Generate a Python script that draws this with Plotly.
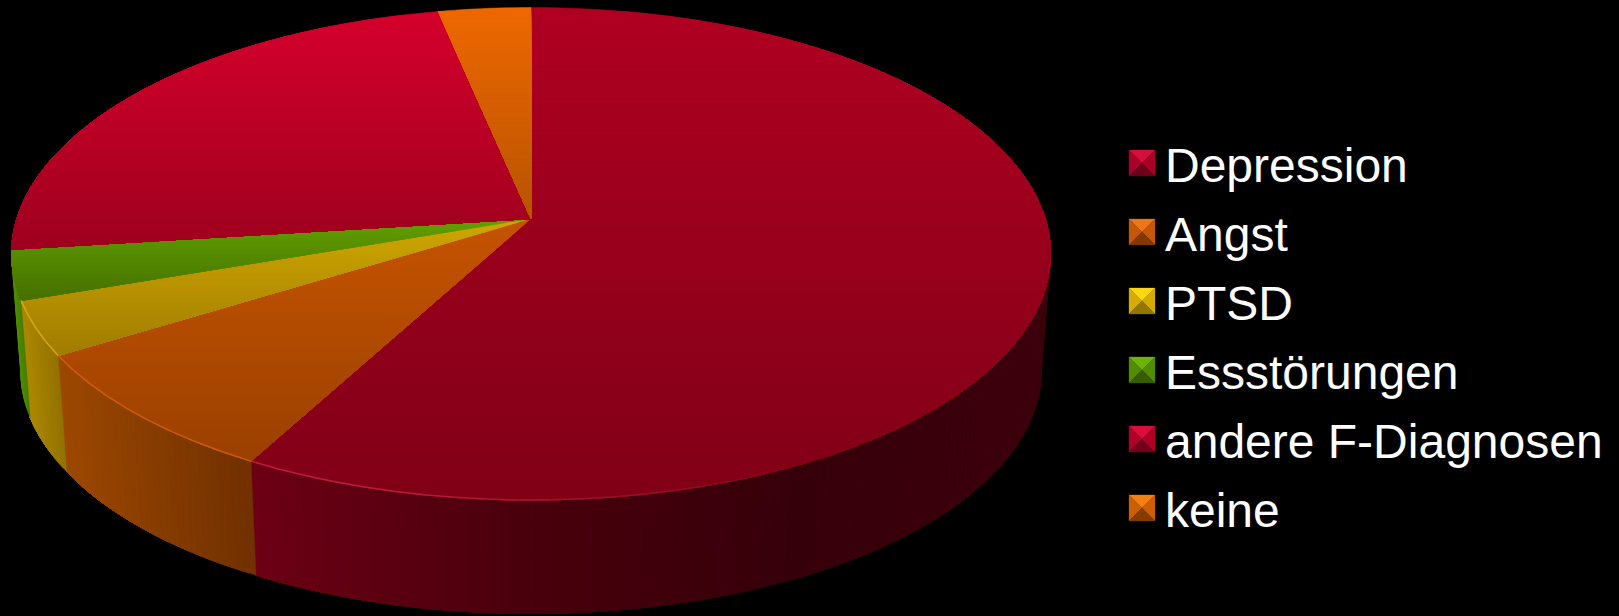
import math
import numpy as np
import plotly.graph_objects as go

# Diagnosis shares in percent, clockwise from twelve o'clock
categories = ["Depression", "Angst", "PTSD", "Essstörungen", "andere F-Diagnosen", "keine"]
shares = [57.9, 8.3, 3.55, 3.25, 23.7, 3.3]

# Vertical shading of each slice's top face: (colour at y0, colour at y1, y0, y1)
top_shades = [
    ((176, 0, 34), (128, 0, 22), 8, 500),
    ((198, 84, 0), (154, 64, 0), 218, 461),
    ((208, 168, 0), (160, 124, 0), 218, 355),
    ((98, 160, 0), (70, 112, 0), 218, 300),
    ((212, 0, 44), (158, 0, 30), 12, 250),
    ((238, 104, 0), (184, 84, 0), 8, 218),
]
# Wall shading by horizontal position: (x, colour) stops; the last two slices
# sit on the far side of the disc and have no visible wall
wall_shades = [
    [(252, (108, 0, 20)), (530, (72, 0, 12)), (800, (54, 0, 10)), (1050, (60, 0, 12))],
    [(58, (156, 72, 0)), (252, (112, 48, 0))],
    [(22, (172, 136, 0)), (66, (140, 108, 0))],
    [(12, (80, 140, 0)), (30, (60, 110, 0))],
    None,
    None,
]
rim_light = [(214, 40, 80), (224, 104, 10), (226, 184, 20), None, None, None]
# Legend swatch faces: top, side, bottom
swatches = [
    ((214, 14, 60), (170, 0, 40), (110, 0, 28)),
    ((236, 118, 24), (196, 88, 8), (130, 56, 0)),
    ((250, 214, 20), (214, 172, 0), (146, 118, 0)),
    ((112, 178, 8), (84, 140, 0), (56, 92, 0)),
    ((218, 14, 60), (176, 0, 40), (114, 0, 28)),
    ((244, 128, 20), (204, 94, 4), (134, 60, 0)),
]

# Projection of the pie disc onto the page
CX, CY, RX, RY, PERSP = 531.0, 218.5, 514.0, 241.2, 0.1431
VANISH_Y, FLOOR = 6800.0, 0.982


def disc(theta):
    u, v = math.sin(theta), math.cos(theta)
    w = 1 + PERSP * v
    return CX + RX * u / w, CY - RY * v / w


def floor_point(x, y):
    return CX + (x - CX) * FLOOR, VANISH_Y + (y - VANISH_Y) * FLOOR


def rgb(c, alpha=None):
    c = [int(round(v)) for v in c]
    if alpha is None:
        return f"rgb({c[0]},{c[1]},{c[2]})"
    return f"rgba({c[0]},{c[1]},{c[2]},{alpha:.3f})"


def clip_from(poly, limit):
    # Keeps the part of a polygon lying below a horizontal line on the page
    out = []
    for i, p in enumerate(poly):
        q = poly[(i + 1) % len(poly)]
        if p[1] >= limit:
            out.append(p)
        if (p[1] >= limit) != (q[1] >= limit):
            t = (limit - p[1]) / (q[1] - p[1])
            out.append((p[0] + t * (q[0] - p[0]), limit))
    return out


def polygon(points, colour, width=0.5):
    xs = [p[0] for p in points] + [points[0][0]]
    ys = [p[1] for p in points] + [points[0][1]]
    return go.Scatter(x=xs, y=ys, mode="lines", fill="toself", fillcolor=colour,
                      line=dict(color=colour, width=width, simplify=False),
                      hoverinfo="skip", showlegend=False)


edges = np.cumsum([0] + shares) / sum(shares) * 2 * math.pi
fig = go.Figure()

# Outer walls: each shade is painted from its angle to the slice's end, so
# the next shade overlaps it and no seams show
for i in range(len(shares)):
    stops = wall_shades[i]
    if stops is None:
        continue
    a0, a1 = max(edges[i], math.radians(85)), edges[i + 1]
    n = max(4, int(math.degrees(a1 - a0) / 0.8))
    thetas = [a0 + (a1 - a0) * j / n for j in range(n + 1)]
    rim = [disc(t) for t in thetas]
    base = [floor_point(*p) for p in rim]
    for j in range(n):
        xm = (rim[j][0] + rim[j + 1][0]) / 2
        colour = rgb([np.interp(xm, [s[0] for s in stops], [s[1][c] for s in stops]) for c in range(3)])
        fig.add_trace(polygon(rim[j:] + base[j:][::-1], colour))

# Top faces: painted downward band by band for the vertical shading
for i in range(len(shares)):
    steps = max(2, int(math.degrees(edges[i + 1] - edges[i])))
    wedge = [(CX, CY)] + [disc(edges[i] + (edges[i + 1] - edges[i]) * j / steps) for j in range(steps + 1)]
    ymin, ymax = min(p[1] for p in wedge), max(p[1] for p in wedge)
    c0, c1, y0, y1 = top_shades[i]
    y = ymin
    while y < ymax:
        band = clip_from(wedge, y)
        if len(band) >= 3:
            t = min(1, max(0, (y + 2 - y0) / (y1 - y0)))
            fig.add_trace(polygon(band, rgb([c0[c] + (c1[c] - c0[c]) * t for c in range(3)])))
        y += 4

# Light catching the front rim, fading towards the right
for i in range(len(shares)):
    if rim_light[i] is None:
        continue
    a0, a1 = max(edges[i], math.radians(130)), min(edges[i + 1], math.radians(262))
    n = max(2, int(math.degrees(a1 - a0) / 3))
    for j in range(n):
        t0 = a0 + (a1 - a0) * j / n
        t1 = a0 + (a1 - a0) * (j + 1) / n
        alpha = min(0.7, max(0.0, (math.degrees(t0) - 150) / 60))
        if alpha <= 0:
            continue
        p0, p1 = disc(t0), disc(t1)
        fig.add_trace(go.Scatter(x=[p0[0], p1[0]], y=[p0[1], p1[1]], mode="lines",
                                 line=dict(color=rgb(rim_light[i], alpha), width=1.5),
                                 hoverinfo="skip", showlegend=False))

# Bevelled legend swatches, lying under the transparent legend symbols
SW_X, SW_Y, SW_SIZE, SW_STEP = 1129.0, 150.0, 26.0, 69.0
for i, name in enumerate(categories):
    x0, y0 = SW_X, SW_Y + SW_STEP * i
    x1, y1 = x0 + SW_SIZE, y0 + SW_SIZE
    mid = (x0 + SW_SIZE / 2, y0 + SW_SIZE / 2)
    top, side, bottom = swatches[i]
    fig.add_trace(polygon([(x0, y0), (x1, y0), mid], rgb(top), 0.3))
    fig.add_trace(polygon([(x0, y0), mid, (x0, y1)], rgb(side), 0.3))
    fig.add_trace(polygon([(x1, y0), (x1, y1), mid], rgb(side), 0.3))
    fig.add_trace(polygon([(x0, y1), (x1, y1), mid], rgb(bottom), 0.3))
    fig.add_trace(go.Scatter(x=[mid[0]], y=[mid[1]], mode="markers", name=name, legendgroup=name,
                             marker=dict(symbol="square", size=1, color="rgba(0,0,0,0)"),
                             hoverinfo="skip", showlegend=True))

fig.update_layout(
    width=1619, height=616, margin=dict(l=0, r=0, t=0, b=0),
    paper_bgcolor="black", plot_bgcolor="black",
    xaxis=dict(range=[0, 1619], visible=False, fixedrange=True),
    yaxis=dict(range=[616, 0], visible=False, fixedrange=True),
    font=dict(family="Liberation Sans, Arial, sans-serif", color="white"),
    legend=dict(x=1125 / 1619, y=1 - 126 / 616, xanchor="left", yanchor="top",
                bgcolor="rgba(0,0,0,0)", borderwidth=0, traceorder="grouped",
                font=dict(size=48, color="white"), tracegroupgap=3.5, itemwidth=30,
                itemclick=False, itemdoubleclick=False),
)
fig.write_html("out.html", config={"displayModeBar": False})
